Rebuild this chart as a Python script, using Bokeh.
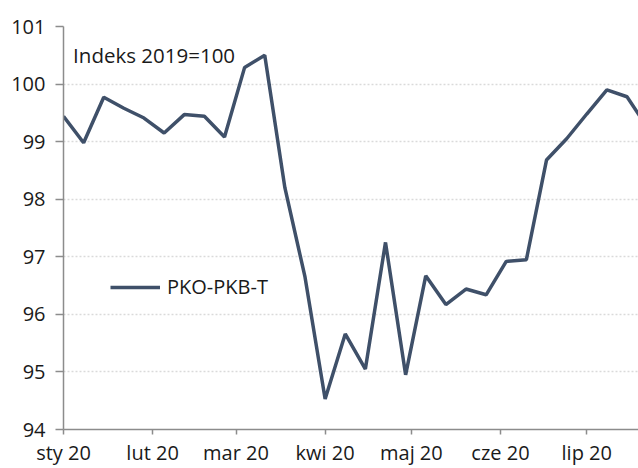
from datetime import datetime, timedelta
from bokeh.plotting import figure
from bokeh.models import Range1d, FixedTicker, Label, Legend, LegendItem
from bokeh.embed import file_html
from bokeh.resources import INLINE

# ---- data ----
dates = ["2020-01-01", "2020-01-08", "2020-01-15", "2020-01-22", "2020-01-29",
         "2020-02-05", "2020-02-12", "2020-02-19", "2020-02-26",
         "2020-03-04", "2020-03-11", "2020-03-18", "2020-03-25",
         "2020-04-01", "2020-04-08", "2020-04-15", "2020-04-22", "2020-04-29",
         "2020-05-06", "2020-05-13", "2020-05-20", "2020-05-27",
         "2020-06-03", "2020-06-10", "2020-06-17", "2020-06-24",
         "2020-07-01", "2020-07-08", "2020-07-15", "2020-07-22"]
pko_pkb_t = [99.44, 98.98, 99.77, 99.58, 99.41,
             99.15, 99.47, 99.44, 99.08,
             100.29, 100.50, 98.20, 96.65,
             94.53, 95.66, 95.05, 97.25, 94.95,
             96.67, 96.17, 96.44, 96.34,
             96.92, 96.95, 98.68, 99.05,
             99.48, 99.90, 99.78, 99.25]
series_name = "PKO-PKB-T"
note_text = "Indeks 2019=100"
tick_dates = ["2020-01-01", "2020-02-01", "2020-03-01", "2020-04-01",
              "2020-05-01", "2020-06-01", "2020-07-01"]
tick_labels = ["sty 20", "lut 20", "mar 20", "kwi 20", "maj 20", "cze 20", "lip 20"]
y_ticks = [94, 95, 96, 97, 98, 99, 100, 101]

FONT = "Open Sans"
LINE_COLOR = "#3f5069"
AXIS_COLOR = "#8c8c8c"

x = [datetime.strptime(d, "%Y-%m-%d") for d in dates]
x_start = datetime(2020, 1, 1)
x_end = x_start + timedelta(days=200)

def ms(dt):
    return (dt - datetime(1970, 1, 1)).total_seconds() * 1000.0

p = figure(width=638, height=468, x_axis_type="datetime",
           output_backend="svg", toolbar_location=None,
           x_range=Range1d(ms(x_start), ms(x_end)),
           y_range=Range1d(94, 101),
           min_border_left=63, min_border_right=0,
           min_border_top=26, min_border_bottom=38)
p.outline_line_color = None
p.background_fill_color = "white"
p.border_fill_color = "white"

r = p.line(x, pko_pkb_t, line_color=LINE_COLOR, line_width=3.5)

# axes
tick_ms = [ms(datetime.strptime(d, "%Y-%m-%d")) for d in tick_dates]
p.xaxis.ticker = FixedTicker(ticks=tick_ms)
p.xaxis.major_label_overrides = {t: lab for t, lab in zip(tick_ms, tick_labels)}
p.yaxis.ticker = FixedTicker(ticks=y_ticks)
for ax in (p.xaxis, p.yaxis):
    ax.axis_line_color = AXIS_COLOR
    ax.axis_line_width = 1.5
    ax.major_tick_line_color = AXIS_COLOR
    ax.major_tick_line_width = 1.5
    ax.major_tick_in = 0
    ax.minor_tick_line_color = None
    ax.major_label_text_font = FONT
    ax.major_label_text_font_size = "20px"
    ax.major_label_text_color = "#1a1a1a"
p.xaxis.major_tick_out = 5
p.yaxis.major_tick_out = 8
p.yaxis.major_label_standoff = 10
p.xaxis.major_label_standoff = 4

p.xgrid.grid_line_color = None
p.ygrid.ticker = FixedTicker(ticks=y_ticks)
p.ygrid.grid_line_color = "#dadada"
p.ygrid.grid_line_width = 1.5
p.ygrid.grid_line_dash = "2 2"

# note
note = Label(x=ms(datetime(2020, 1, 4, 8)), y=100.50, text=note_text,
             text_font=FONT, text_font_size="20.5px", text_color="#1a1a1a",
             text_align="left", text_baseline="middle")
p.add_layout(note)

legend = Legend(items=[LegendItem(label=series_name, renderers=[r])],
                location=(47, 129), orientation="vertical",
                glyph_width=50, glyph_height=20, label_height=20,
                label_standoff=7, padding=0, margin=0, spacing=0,
                border_line_color=None, background_fill_alpha=0,
                label_text_font=FONT, label_text_font_size="20px",
                label_text_color="#1a1a1a")
p.add_layout(legend, "center")

open("out.html", "w").write(file_html(p, INLINE))
